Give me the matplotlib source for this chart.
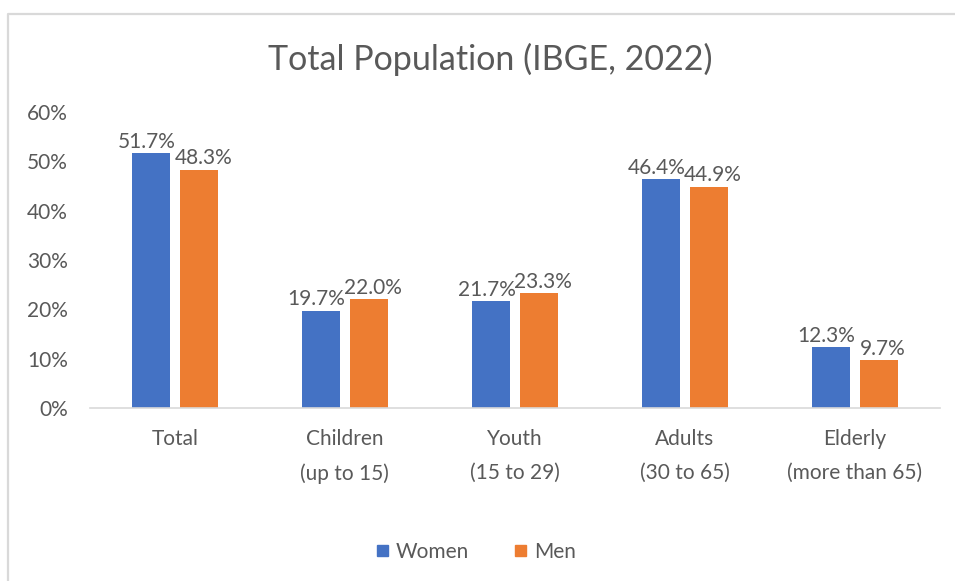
import matplotlib
matplotlib.use("Agg")
import matplotlib.pyplot as plt
from matplotlib.lines import Line2D
from matplotlib.patches import Patch
import numpy as np

plt.rcParams["font.family"] = ["Lato", "DejaVu Sans"]

categories = ["Total", "Children\n(up to 15)", "Youth\n(15 to 29)", "Adults\n(30 to 65)", "Elderly\n(more than 65)"]
women = [51.7, 19.7, 21.7, 46.4, 12.3]
men = [48.3, 22.0, 23.3, 44.9, 9.7]
yticks = [0, 10, 20, 30, 40, 50, 60]

BLUE = "#4472C4"
ORANGE = "#ED7D31"
TEXT = "#595959"
LINE = "#D9D9D9"
FS = 15

fig = plt.figure(figsize=(9.55, 5.81), dpi=100)
ax = fig.add_axes([0.0942, 0.2978, 0.8898, 0.5094])

x = np.arange(len(categories))
w = 0.224
gap = 0.06
off = (w + gap) / 2
b1 = ax.bar(x - off, women, w, color=BLUE, label="Women")
b2 = ax.bar(x + off, men, w, color=ORANGE, label="Men")

# value labels, nudged apart so neighbouring labels don't collide
for bars, vals, dx in ((b1, women, -3), (b2, men, 3)):
    for bar, v in zip(bars, vals):
        ax.annotate(f"{v:.1f}%", (bar.get_x() + bar.get_width() / 2, v),
                    xytext=(dx, 1), textcoords="offset points",
                    ha="center", va="bottom", fontsize=FS, color=TEXT)

ax.set_xlim(-0.5, len(categories) - 0.5)
ax.set_ylim(0, 60)
ax.set_yticks(yticks)
ax.set_yticklabels([f"{t}%" for t in yticks])
ax.set_xticks(x)
ax.tick_params(axis="both", length=0, labelsize=FS, labelcolor=TEXT)
ax.set_xticklabels(categories, linespacing=1.85)
ax.tick_params(axis="y", pad=16)
ax.tick_params(axis="x", pad=15)
for side in ("top", "right", "left"):
    ax.spines[side].set_visible(False)
ax.spines["bottom"].set_color(LINE)
ax.spines["bottom"].set_linewidth(1.2)

fig.text(0.513, 0.897, "Total Population (IBGE, 2022)", ha="center", va="center",
         fontsize=24.5, color=TEXT)

handles = [Patch(color=BLUE, label="Women"), Patch(color=ORANGE, label="Men")]
fig.legend(handles=handles, loc="center", bbox_to_anchor=(0.499, 0.05), ncol=2,
           frameon=False, fontsize=FS, labelcolor=TEXT, handlelength=0.5,
           handleheight=0.5, handletextpad=0.4, columnspacing=2.2)

fig.add_artist(Line2D([8 / 955, 8 / 955, 1.0], [0.0, 1 - 14 / 581, 1 - 14 / 581],
                      transform=fig.transFigure, color=LINE, linewidth=1.6))

fig.savefig("out.png", dpi=100, facecolor="white")
